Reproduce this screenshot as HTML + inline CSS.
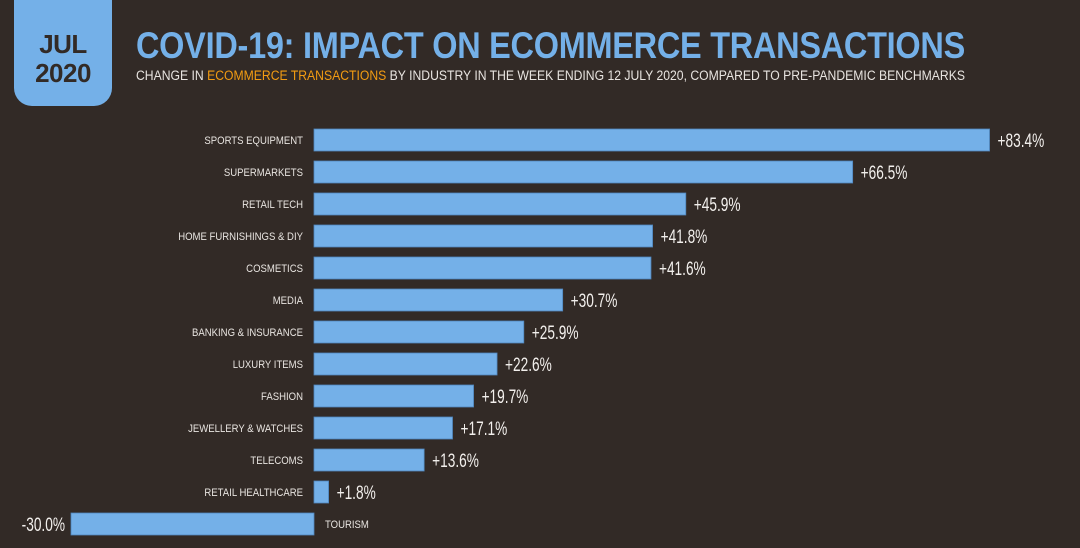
<!DOCTYPE html>
<html><head><meta charset="utf-8"><style>
html,body{margin:0;padding:0;}
body{width:1080px;height:548px;background:#322a26;position:relative;overflow:hidden;font-family:"Liberation Sans",sans-serif;}
#badge{position:absolute;left:14px;top:0;width:98px;height:106px;background:#74b0e8;border-radius:0 0 18px 18px;color:#322a26;font-weight:bold;text-align:center;}
#badge div{font-size:26px;line-height:29px;letter-spacing:-0.5px;}
#title{position:absolute;left:136px;top:25px;font-size:37px;font-weight:bold;color:#74b0e8;white-space:nowrap;transform-origin:0 0;letter-spacing:-0.3px;}
#sub{position:absolute;left:136px;top:68px;font-size:13.5px;color:#e8e4e0;white-space:nowrap;transform-origin:0 0;}
#sub span{color:#f39c12;}
svg text{font-family:"Liberation Sans",sans-serif;}
</style></head><body>
<div id="badge"><div style="margin-top:30px">JUL</div><div>2020</div></div>
<div id="title">COVID-19: IMPACT ON ECOMMERCE TRANSACTIONS</div>
<div id="sub">CHANGE IN <span>ECOMMERCE TRANSACTIONS</span> BY INDUSTRY IN THE WEEK ENDING 12 JULY 2020, COMPARED TO PRE-PANDEMIC BENCHMARKS</div>
<svg id="chart" width="1080" height="548" style="position:absolute;left:0;top:0"></svg>
<script>
const categories=["SPORTS EQUIPMENT","SUPERMARKETS","RETAIL TECH","HOME FURNISHINGS & DIY","COSMETICS","MEDIA","BANKING & INSURANCE","LUXURY ITEMS","FASHION","JEWELLERY & WATCHES","TELECOMS","RETAIL HEALTHCARE","TOURISM"];
const values=[83.4,66.5,45.9,41.8,41.6,30.7,25.9,22.6,19.7,17.1,13.6,1.8,-30.0];
const valueLabels=["+83.4%","+66.5%","+45.9%","+41.8%","+41.6%","+30.7%","+25.9%","+22.6%","+19.7%","+17.1%","+13.6%","+1.8%","-30.0%"];

function fit(id,w){const e=document.getElementById(id);const s=w/e.getBoundingClientRect().width;e.style.transform='scaleX('+s+')';}
fit('title',829);fit('sub',829);

const NS="http://www.w3.org/2000/svg";
const svg=document.getElementById('chart');
const zeroX=314, scale=8.1;
function xPos(v){return zeroX+v*scale;}
function yPos(i){return 129+i*32;}
const barH=22;
categories.forEach((c,i)=>{
  const v=values[i];
  const x0=Math.min(xPos(0),xPos(v)), x1=Math.max(xPos(0),xPos(v));
  const r=document.createElementNS(NS,'rect');
  r.setAttribute('x',x0);r.setAttribute('y',yPos(i));
  r.setAttribute('width',Math.max(x1-x0,1));r.setAttribute('height',barH);
  r.setAttribute('fill','#74b0e8');r.setAttribute('stroke','#4f86bd');r.setAttribute('stroke-width','0.8');
  
  
  svg.appendChild(r);
  const cy=yPos(i)+barH/2+4;
  const t=document.createElementNS(NS,'text');
  t.textContent=c;t.setAttribute('fill','#e8e4e0');t.setAttribute('font-size','11');
  const lx=v>=0?zeroX-11:zeroX+11;
  if(v>=0)t.setAttribute('text-anchor','end');
  t.setAttribute('transform','translate('+lx+','+cy+') scale(0.87,1)');
  
  
  svg.appendChild(t);
  const vl=document.createElementNS(NS,'text');
  vl.textContent=valueLabels[i];vl.setAttribute('fill','#f2efec');vl.setAttribute('font-size','19');
  let vx;
  if(v>=0){vx=xPos(v)+8;}
  else{vx=xPos(v)-6;vl.setAttribute('text-anchor','end');}
  vl.setAttribute('transform','translate('+vx+','+(cy+3)+') scale(0.72,1)');
  
  
  svg.appendChild(vl);
});
</script>
</body></html>
